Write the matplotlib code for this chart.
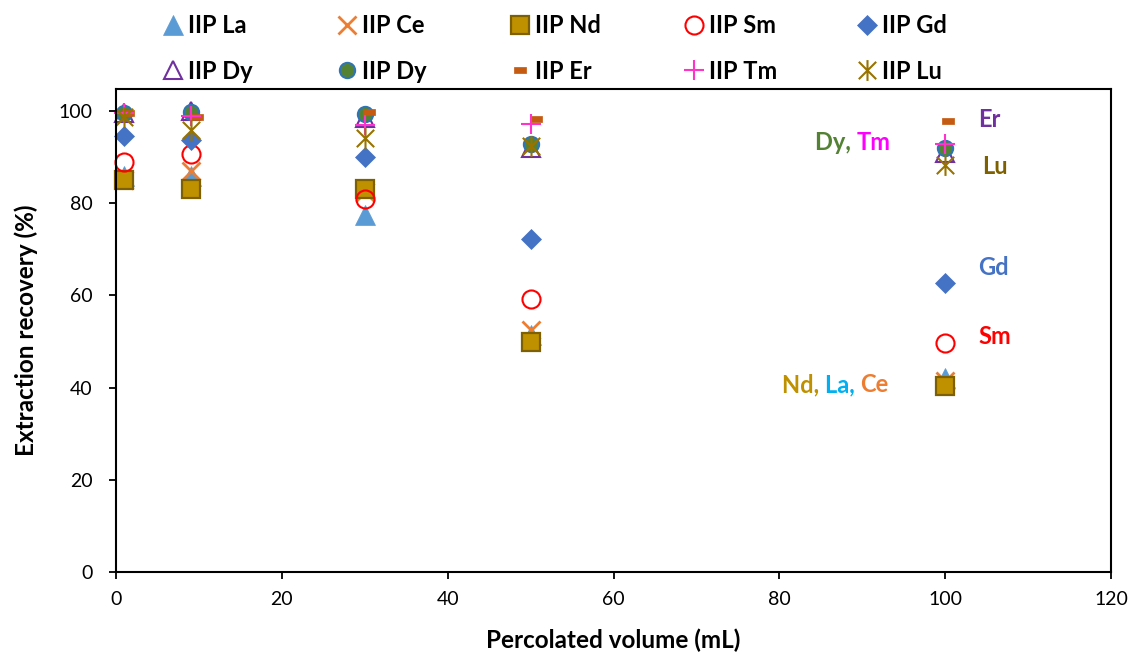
import matplotlib
matplotlib.use('Agg')
import matplotlib.pyplot as plt
from matplotlib.path import Path

plt.rcParams['font.family'] = ['Lato', 'DejaVu Sans']

# ---------------- data ----------------
volume = [1, 9, 30, 50, 100]
er_volume = [1.5, 9.8, 30.5, 50.6, 100.4]
la = [86, 86, 77.5, 51.5, 42]
ce = [85, 87, 82.5, 52.5, 41.5]
nd = [85, 83, 83, 49.8, 40.3]
sm = [89, 90.8, 81, 59.2, 49.6]
gd = [94.5, 93.8, 90, 72.2, 62.7]
dy_tri = [99.5, 100, 98.5, 92, 91]
dy_circ = [99.5, 99.8, 99.3, 92.8, 91.9]
er = [99.6, 98.8, 99.8, 98.2, 97.8]
tm = [99.5, 99, 97, 97.2, 92.8]
lu = [98.8, 96, 94.2, 92.5, 88.3]

x_ticks = [0, 20, 40, 60, 80, 100, 120]
y_ticks = [0, 20, 40, 60, 80, 100]

# ---------------- markers ----------------
star_path = Path([(-1, -1), (1, 1), (-1, 1), (1, -1), (0, -1.2), (0, 1.2)],
                 [Path.MOVETO, Path.LINETO, Path.MOVETO, Path.LINETO,
                  Path.MOVETO, Path.LINETO])
dash_path = Path([(-1, -0.5), (1, -0.5), (1, 0.5), (-1, 0.5), (-1, -0.5)],
                 [Path.MOVETO, Path.LINETO, Path.LINETO, Path.LINETO,
                  Path.CLOSEPOLY])

W, H = 1131, 652
fig = plt.figure(figsize=(W / 100, H / 100), dpi=100)
ax = fig.add_axes([116 / W, 1 - 572 / H, (1111 - 116) / W, (572 - 89) / H])

series = [
    ('IIP La', volume, la, dict(marker='^', ms=14, mfc='#5B9BD5', mec='#5B9BD5', mew=0.5)),
    ('IIP Ce', volume, ce, dict(marker='x', ms=13, mec='#ED7D31', mew=2)),
    ('IIP Nd', volume, nd, dict(marker='s', ms=13, mfc='#BF9000', mec='#7F6000', mew=1.6)),
    ('IIP Sm', volume, sm, dict(marker='o', ms=13, mfc='none', mec='#FF0000', mew=1.5)),
    ('IIP Gd', volume, gd, dict(marker='D', ms=10, mfc='#4472C4', mec='#4472C4', mew=0.5)),
    ('IIP Dy', volume, dy_tri, dict(marker='^', ms=13, mfc='none', mec='#7030A0', mew=1.5)),
    ('IIP Dy', volume, dy_circ, dict(marker='o', ms=11, mfc='#548235', mec='#2E75B6', mew=1.5)),
    ('IIP Er', er_volume, er, dict(marker=dash_path, ms=8, mfc='#C55A11', mec='#C55A11', mew=0.5)),
    ('IIP Tm', volume, tm, dict(marker='+', ms=15, mec='#FF33CC', mew=1.5)),
    ('IIP Lu', volume, lu, dict(marker=star_path, ms=15, mfc='none', mec='#997300', mew=1.5)),
]

handles = []
for label, xs, ys, st in series:
    h, = ax.plot(xs, ys, linestyle='none', label=label, clip_on=False, **st)
    handles.append(h)

ax.set_xlim(0, 120)
ax.set_ylim(0, 104.8)
ax.set_xticks(x_ticks)
ax.set_yticks(y_ticks)
for sp in ax.spines.values():
    sp.set_linewidth(1.5)
    sp.set_color('black')
ax.tick_params(axis='both', direction='out', length=5, width=1.3, labelsize=14)
ax.tick_params(axis='y', pad=12)
ax.tick_params(axis='x', pad=9)

ax.set_xlabel('Percolated volume (mL)', fontsize=17.5, fontweight='bold')
ax.set_ylabel('Extraction recovery (%)', fontsize=17.5, fontweight='bold')
ax.xaxis.set_label_coords(0.5, -0.118)
ax.yaxis.set_label_coords(-0.078, 0.5)

# ---------------- legend (5 columns x 2 rows) ----------------
leg_fs = 17
col_centers = [173, 346.5, 520, 693.5, 867]
hl = 1.0
fs_px = leg_fs * 100 / 72
hl_px = hl * fs_px
for i, cx in enumerate(col_centers):
    pair = [handles[i], handles[i + 5]]
    fig.legend(handles=pair, labels=[h.get_label() for h in pair],
               loc='center left',
               bbox_to_anchor=((cx - hl_px / 2) / W, 1 - 48.5 / H),
               frameon=False, borderpad=0, borderaxespad=0,
               handlelength=hl, handletextpad=0.14, labelspacing=0.94,
               prop=dict(size=leg_fs, weight='bold'), numpoints=1)

# ---------------- annotations ----------------
ann_kw = dict(fontsize=17, fontweight='bold')


def multicolor(x, y, parts):
    t = ax.text(x, y, parts[0][0], color=parts[0][1], ha='left', va='center', **ann_kw)
    for s, c in parts[1:]:
        t = ax.annotate(s, xy=(1, 0), xycoords=t, color=c, ha='left', va='bottom', **ann_kw)


multicolor(104.0, 98.2, [('Er', '#7030A0')])
multicolor(84.3, 93.1, [('Dy, ', '#548235'), ('Tm', '#FF00FF')])
multicolor(104.4, 87.9, [('Lu', '#7F6000')])
multicolor(104.0, 66.0, [('Gd', '#4472C4')])
multicolor(104.0, 51.0, [('Sm', '#FF0000')])
multicolor(80.3, 40.6, [('Nd, ', '#BF9000'), ('La, ', '#00B0F0'), ('Ce', '#ED7D31')])

fig.savefig('out.png', dpi=100, facecolor='white')
